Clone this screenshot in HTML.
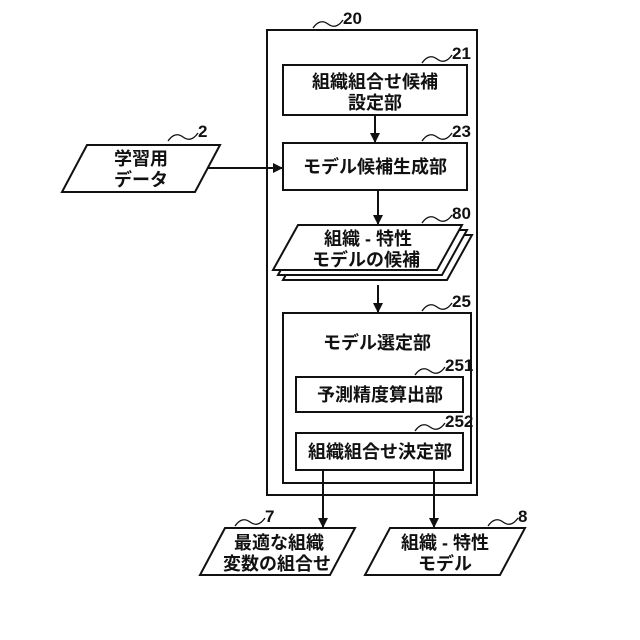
<!DOCTYPE html>
<html><head><meta charset="utf-8"><style>
html,body{margin:0;padding:0;background:#fff;}
svg{display:block;}
text{font-family:"Liberation Sans","Noto Sans CJK JP",sans-serif;font-weight:bold;fill:#111;}
.t{font-size:18px;text-anchor:middle;}
.n{font-size:17px;}
</style></head><body>
<svg width="640" height="640" viewBox="0 0 640 640" xmlns="http://www.w3.org/2000/svg">
<defs><marker id="a" markerWidth="10" markerHeight="10" refX="9" refY="5" orient="auto" markerUnits="userSpaceOnUse"><path d="M0,0 L10,5 L0,10 Z" fill="#111"/></marker></defs>
<g stroke="#111" stroke-width="2" fill="#fff">
<rect x="267" y="30" width="210" height="465"/>
<rect x="283" y="65" width="184" height="50"/>
<rect x="283" y="143" width="184" height="47"/>
<path d="M308,235 L472,235 L447,280 L283,280 Z"/>
<path d="M303,230 L467,230 L442,275 L278,275 Z"/>
<path d="M298,225 L462,225 L437,270 L273,270 Z"/>
<rect x="283" y="313" width="188" height="170"/>
<rect x="296" y="377" width="167" height="35"/>
<rect x="296" y="433" width="167" height="37"/>
<path d="M225,528 L355,528 L330,575 L200,575 Z"/>
<path d="M390,528 L525,528 L500,575 L365,575 Z"/>
<path d="M87,145 L220,145 L195,192 L62,192 Z"/>
</g>
<g stroke="#111" stroke-width="2" fill="none" marker-end="url(#a)">
<line x1="375" y1="115" x2="375" y2="142"/>
<line x1="378" y1="190" x2="378" y2="224"/>
<line x1="378" y1="285" x2="378" y2="312"/>
<line x1="323" y1="470" x2="323" y2="527"/>
<line x1="434" y1="470" x2="434" y2="527"/>
<line x1="207" y1="168" x2="282" y2="168"/>
</g>
<g stroke="#111" stroke-width="1.3" fill="none">
<path d="M313,28 q7,-10 15,-4 t15,-4"/>
<path d="M422,63 q7,-10 15,-4 t15,-4"/>
<path d="M422,141 q7,-10 15,-4 t15,-4"/>
<path d="M422,223 q7,-10 15,-4 t15,-4"/>
<path d="M422,311 q7,-10 15,-4 t15,-4"/>
<path d="M415,375 q7,-10 15,-4 t15,-4"/>
<path d="M415,431 q7,-10 15,-4 t15,-4"/>
<path d="M168,141 q7,-10 15,-4 t15,-4"/>
<path d="M235,526 q7,-10 15,-4 t15,-4"/>
<path d="M488,526 q7,-10 15,-4 t15,-4"/>
</g>
<text class="n" x="343" y="24">20</text>
<text class="n" x="452" y="59">21</text>
<text class="n" x="452" y="137">23</text>
<text class="n" x="452" y="219">80</text>
<text class="n" x="452" y="307">25</text>
<text class="n" x="445" y="371">251</text>
<text class="n" x="445" y="427">252</text>
<text class="n" x="198" y="137">2</text>
<text class="n" x="265" y="522">7</text>
<text class="n" x="518" y="522">8</text>
<text class="t" x="375" y="88">組織組合せ候補</text>
<text class="t" x="375" y="109">設定部</text>
<text class="t" x="375" y="173">モデル候補生成部</text>
<text class="t" x="368" y="245">組織 - 特性</text>
<text class="t" x="366" y="266">モデルの候補</text>
<text class="t" x="377" y="349">モデル選定部</text>
<text class="t" x="380" y="401">予測精度算出部</text>
<text class="t" x="380" y="458">組織組合せ決定部</text>
<text class="t" x="141" y="165">学習用</text>
<text class="t" x="141" y="186">データ</text>
<text class="t" x="279" y="549">最適な組織</text>
<text class="t" x="277" y="570">変数の組合せ</text>
<text class="t" x="445" y="549">組織 - 特性</text>
<text class="t" x="445" y="570">モデル</text>
</svg>
</body></html>
